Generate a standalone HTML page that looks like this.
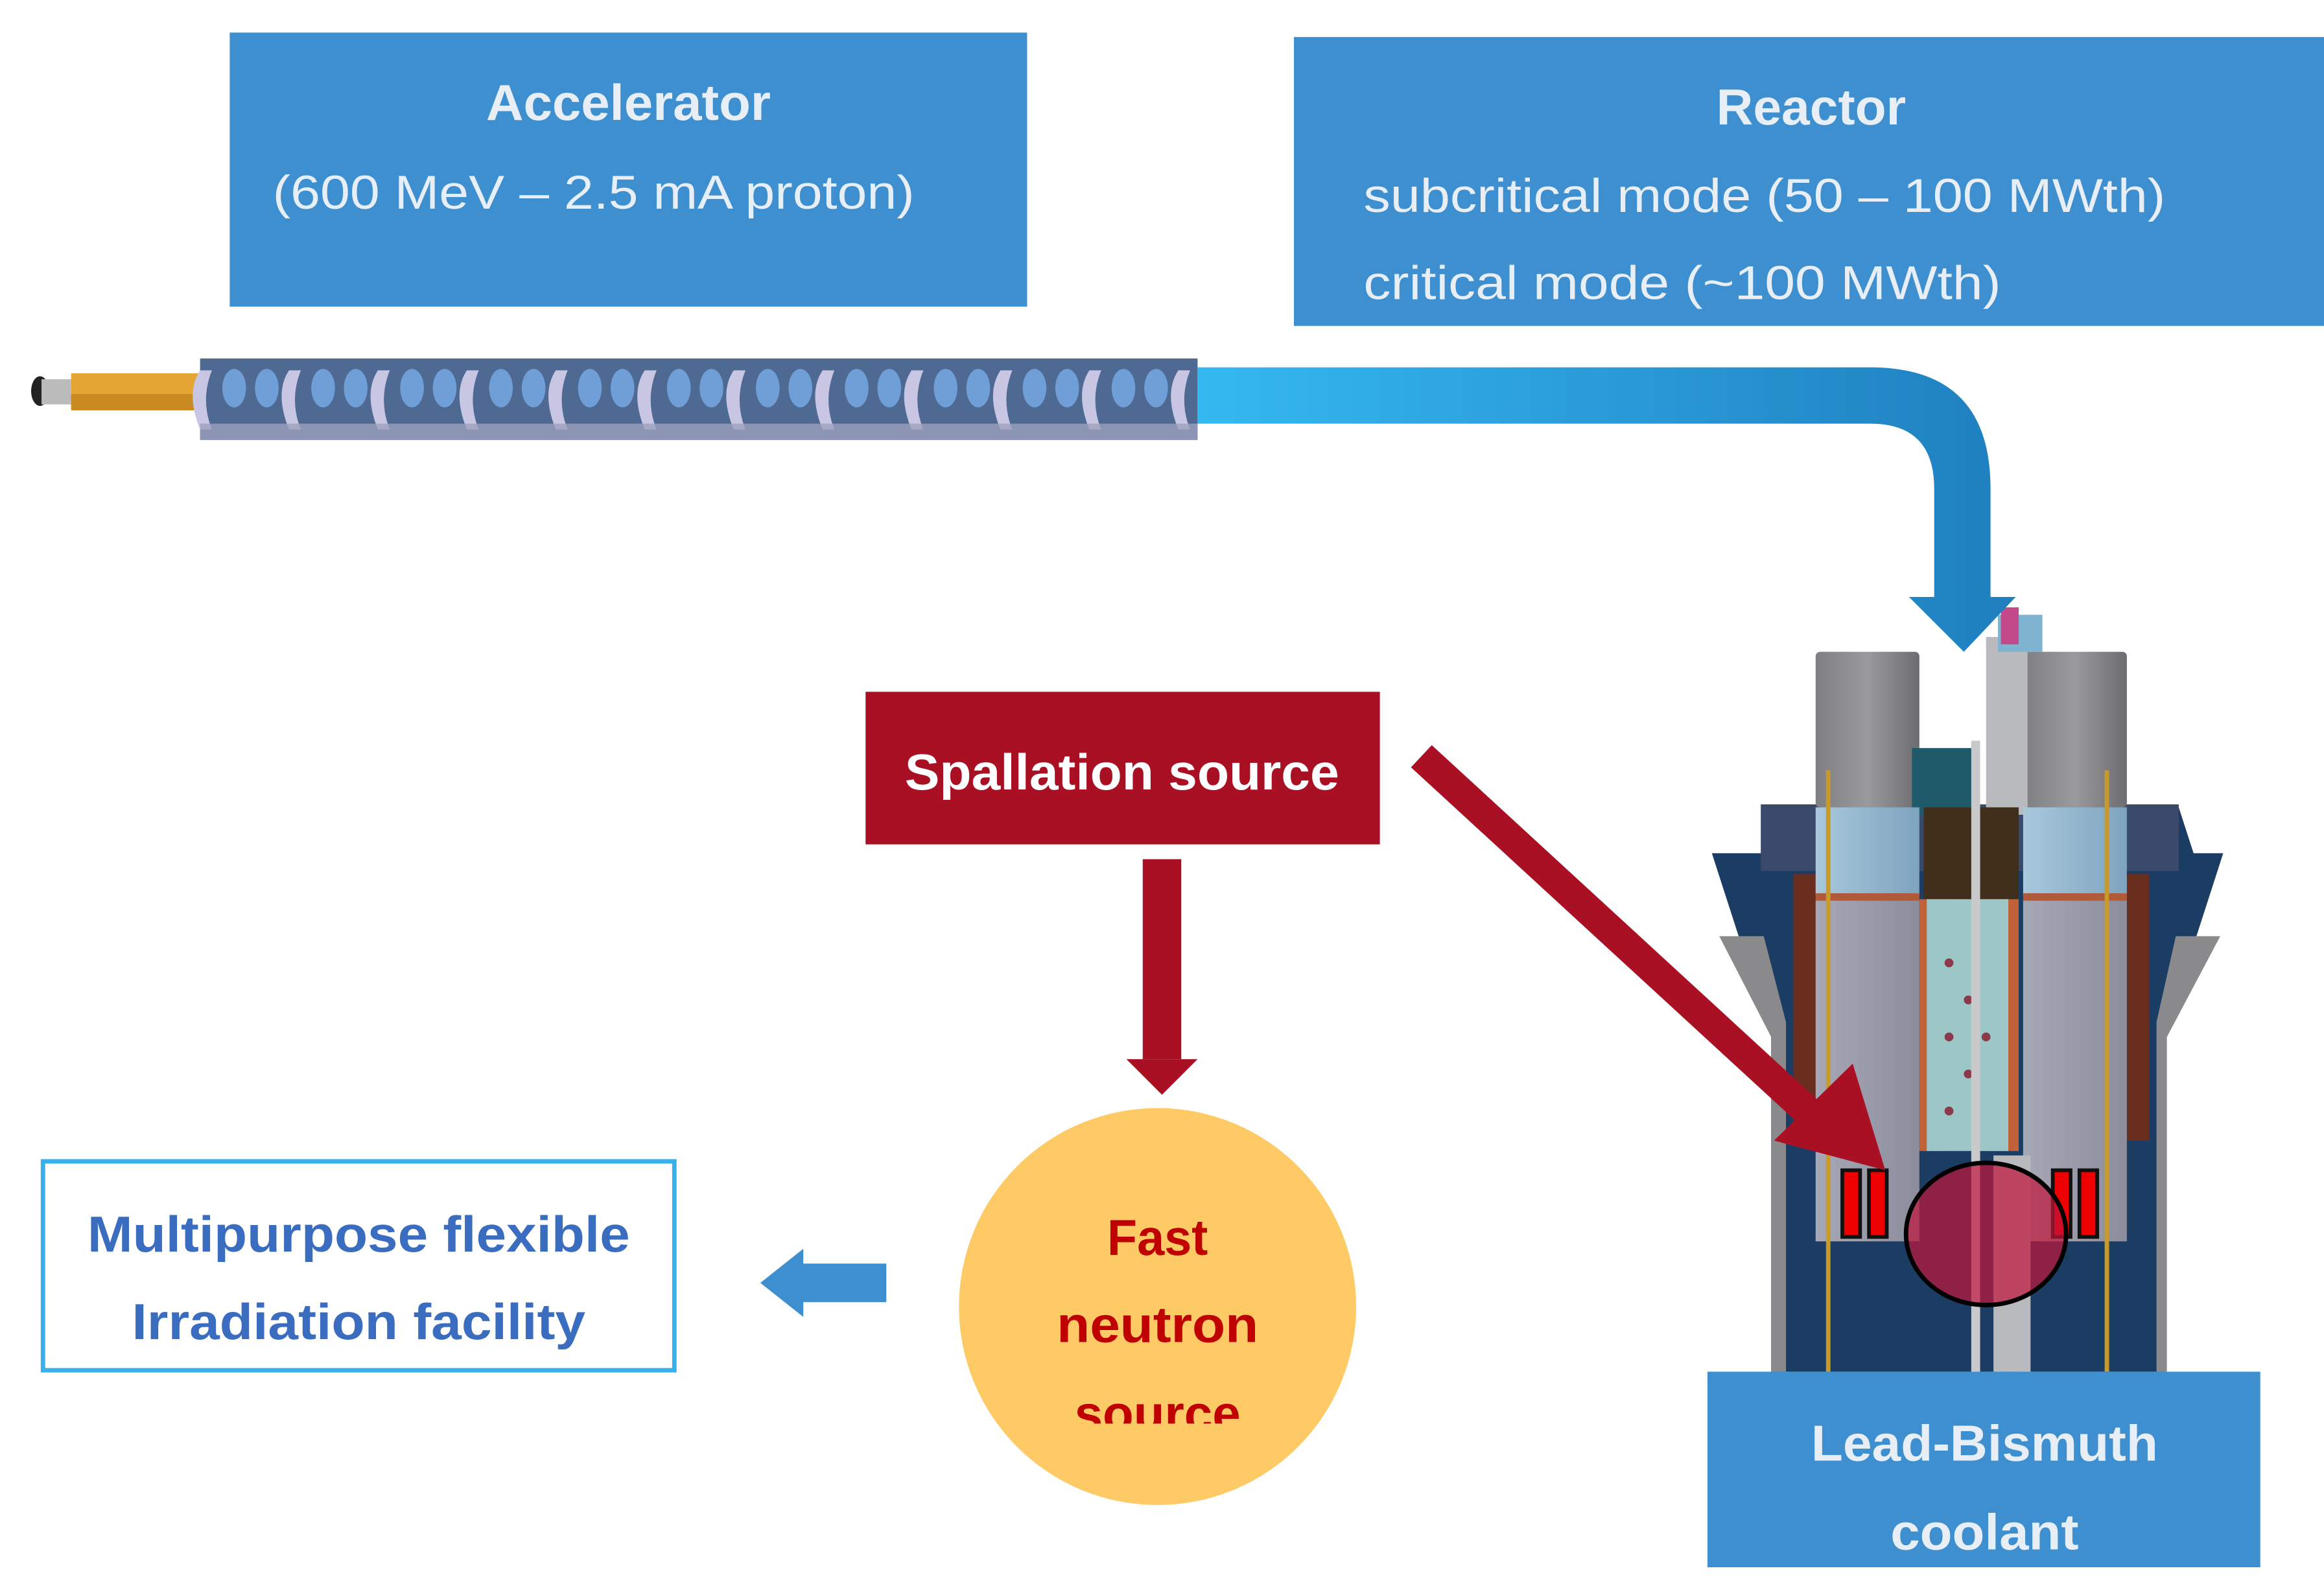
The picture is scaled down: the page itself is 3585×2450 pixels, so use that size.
<!DOCTYPE html>
<html><head><meta charset="utf-8"><style>
html,body{margin:0;padding:0;background:#fff;}
svg{display:block;}
text{font-family:"Liberation Sans","DejaVu Sans",sans-serif;}
</style></head><body>
<svg width="3585" height="2450" viewBox="0 0 1568 1072" preserveAspectRatio="none" xmlns="http://www.w3.org/2000/svg">
<defs>
<linearGradient id="pipe" x1="0" x2="1" y1="0" y2="0"><stop offset="0" stop-color="#35b8f0"/><stop offset="1" stop-color="#1f7fbf"/></linearGradient>
<linearGradient id="col" x1="0" x2="1"><stop offset="0" stop-color="#7f7f82"/><stop offset="0.5" stop-color="#9a9a9d"/><stop offset="1" stop-color="#6d6d70"/></linearGradient>
<linearGradient id="lb" x1="0" x2="1"><stop offset="0" stop-color="#a8c8dc"/><stop offset="1" stop-color="#7fa4bf"/></linearGradient>
<linearGradient id="gr" x1="0" x2="1"><stop offset="0" stop-color="#a6a8b6"/><stop offset="1" stop-color="#8b8d9c"/></linearGradient>
<clipPath id="cc"><rect x="640" y="740" width="290" height="221"/></clipPath>
</defs>

<rect x="155" y="22" width="538" height="185" fill="#3d8fcf"/>
<text x="424" y="81" font-size="34" font-weight="bold" fill="#e8eef5" text-anchor="middle" textLength="192" lengthAdjust="spacingAndGlyphs">Accelerator</text>
<text x="184" y="141" font-size="32" fill="#e8eef5" textLength="433" lengthAdjust="spacingAndGlyphs">(600 MeV – 2.5 mA proton)</text>

<rect x="873" y="25" width="695" height="195" fill="#3d8fcf"/>
<text x="1222" y="84" font-size="34" font-weight="bold" fill="#e8eef5" text-anchor="middle" textLength="128" lengthAdjust="spacingAndGlyphs">Reactor</text>
<text x="920" y="143" font-size="32" fill="#e8eef5" textLength="541" lengthAdjust="spacingAndGlyphs">subcritical mode (50 – 100 MWth)</text>
<text x="920" y="202" font-size="32" fill="#e8eef5" textLength="430" lengthAdjust="spacingAndGlyphs">critical mode (~100 MWth)</text>

<ellipse cx="27" cy="264" rx="6" ry="10" fill="#222"/>
<rect x="28" y="256" width="20" height="17" fill="#bbb"/>
<rect x="48" y="252" width="90" height="25" fill="#e5a533"/>
<rect x="48" y="266" width="90" height="11" fill="#c98a22"/>
<g>
<rect x="135" y="242" width="673" height="55" fill="#4e6a93"/>
<g fill="#c8c6e2">
<path d="M135 250 q-10 15 0 40 l8 0 q-8 -20 0 -40z"/>
<path d="M195 250 q-10 15 0 40 l8 0 q-8 -20 0 -40z"/>
<path d="M255 250 q-10 15 0 40 l8 0 q-8 -20 0 -40z"/>
<path d="M315 250 q-10 15 0 40 l8 0 q-8 -20 0 -40z"/>
<path d="M375 250 q-10 15 0 40 l8 0 q-8 -20 0 -40z"/>
<path d="M435 250 q-10 15 0 40 l8 0 q-8 -20 0 -40z"/>
<path d="M495 250 q-10 15 0 40 l8 0 q-8 -20 0 -40z"/>
<path d="M555 250 q-10 15 0 40 l8 0 q-8 -20 0 -40z"/>
<path d="M615 250 q-10 15 0 40 l8 0 q-8 -20 0 -40z"/>
<path d="M675 250 q-10 15 0 40 l8 0 q-8 -20 0 -40z"/>
<path d="M735 250 q-10 15 0 40 l8 0 q-8 -20 0 -40z"/>
<path d="M795 250 q-10 15 0 40 l8 0 q-8 -20 0 -40z"/>
</g>
<g fill="#6f9fd6">
<ellipse cx="158" cy="262" rx="8" ry="13"/><ellipse cx="180" cy="262" rx="8" ry="13"/>
<ellipse cx="218" cy="262" rx="8" ry="13"/><ellipse cx="240" cy="262" rx="8" ry="13"/>
<ellipse cx="278" cy="262" rx="8" ry="13"/><ellipse cx="300" cy="262" rx="8" ry="13"/>
<ellipse cx="338" cy="262" rx="8" ry="13"/><ellipse cx="360" cy="262" rx="8" ry="13"/>
<ellipse cx="398" cy="262" rx="8" ry="13"/><ellipse cx="420" cy="262" rx="8" ry="13"/>
<ellipse cx="458" cy="262" rx="8" ry="13"/><ellipse cx="480" cy="262" rx="8" ry="13"/>
<ellipse cx="518" cy="262" rx="8" ry="13"/><ellipse cx="540" cy="262" rx="8" ry="13"/>
<ellipse cx="578" cy="262" rx="8" ry="13"/><ellipse cx="600" cy="262" rx="8" ry="13"/>
<ellipse cx="638" cy="262" rx="8" ry="13"/><ellipse cx="660" cy="262" rx="8" ry="13"/>
<ellipse cx="698" cy="262" rx="8" ry="13"/><ellipse cx="720" cy="262" rx="8" ry="13"/>
<ellipse cx="758" cy="262" rx="8" ry="13"/><ellipse cx="780" cy="262" rx="8" ry="13"/>
</g>
<rect x="135" y="286" width="673" height="11" fill="#9da0bd" opacity="0.8"/>
</g>

<g>
<path d="M1155 576 L1190 576 L1200 545 L1470 545 L1480 576 L1500 576 L1460 700 L1460 926 L1195 926 L1195 700 Z" fill="#1c3d63"/>
<path d="M1160 632 L1190 632 L1205 690 L1205 926 L1195 926 L1195 700 Z" fill="#8a8a8c"/>
<path d="M1498 632 L1468 632 L1455 690 L1455 926 L1462 926 L1462 700 Z" fill="#8a8a8c"/>
<rect x="1188" y="543" width="282" height="45" fill="#3a4a6a"/>
<rect x="1210" y="590" width="40" height="180" fill="#6a2e1e"/>
<rect x="1410" y="590" width="40" height="180" fill="#6a2e1e"/>
<rect x="1225" y="440" width="70" height="105" fill="url(#col)" rx="3"/>
<rect x="1365" y="440" width="70" height="105" fill="url(#col)" rx="3"/>
<rect x="1340" y="430" width="28" height="120" fill="#b9babd"/>
<rect x="1348" y="415" width="30" height="25" fill="#7fb4d0"/>
<rect x="1350" y="410" width="12" height="25" fill="#c24a8a"/>
<rect x="1290" y="505" width="45" height="45" fill="#1e5a6a"/>
<rect x="1225" y="545" width="70" height="60" fill="url(#lb)"/>
<rect x="1365" y="545" width="70" height="60" fill="url(#lb)"/>
<rect x="1225" y="603" width="70" height="5" fill="#b05a3a"/>
<rect x="1365" y="603" width="70" height="5" fill="#b05a3a"/>
<rect x="1225" y="608" width="70" height="230" fill="url(#gr)"/>
<rect x="1365" y="608" width="70" height="230" fill="url(#gr)"/>
<rect x="1298" y="545" width="64" height="62" fill="#3e2e1a"/>
<rect x="1295" y="607" width="20" height="170" fill="#c0613a"/>
<rect x="1340" y="607" width="22" height="170" fill="#c0613a"/>
<rect x="1300" y="607" width="55" height="170" fill="#9cc7c6"/>
<g fill="#8a3a4a"><circle cx="1315" cy="650" r="3"/><circle cx="1328" cy="675" r="3"/><circle cx="1315" cy="700" r="3"/><circle cx="1328" cy="725" r="3"/><circle cx="1315" cy="750" r="3"/><circle cx="1340" cy="700" r="3"/></g>
<rect x="1330" y="500" width="6" height="430" fill="#c9c9cc"/>
<rect x="1345" y="780" width="25" height="150" fill="#b9babd"/>
<rect x="1232" y="520" width="3" height="406" fill="#c79a2a"/>
<rect x="1420" y="520" width="3" height="406" fill="#c79a2a"/>
<rect x="1243" y="790" width="12" height="45" fill="#ee0000" stroke="#111" stroke-width="2.5"/>
<rect x="1261" y="790" width="12" height="45" fill="#ee0000" stroke="#111" stroke-width="2.5"/>
<rect x="1385" y="790" width="12" height="45" fill="#ee0000" stroke="#111" stroke-width="2.5"/>
<rect x="1403" y="790" width="12" height="45" fill="#ee0000" stroke="#111" stroke-width="2.5"/>
<ellipse cx="1340" cy="833" rx="54" ry="48" fill="#c0143a" fill-opacity="0.7" stroke="#000" stroke-width="3"/>
</g>

<path d="M808 248 L1262 248 Q1343 248 1343 330 L1343 403 L1360 403 L1325 440 L1288 403 L1305 403 L1305 330 Q1305 286 1262 286 L808 286 Z" fill="url(#pipe)"/>

<rect x="1152" y="926" width="373" height="132" fill="#3d8fcf"/>
<text x="1339" y="986" font-size="34" font-weight="bold" fill="#e8eef5" text-anchor="middle" textLength="234" lengthAdjust="spacingAndGlyphs">Lead-Bismuth</text>
<text x="1339" y="1046" font-size="34" font-weight="bold" fill="#e8eef5" text-anchor="middle" textLength="127" lengthAdjust="spacingAndGlyphs">coolant</text>

<polygon points="952,518 966,503 1240,755 1226,770" fill="#a91024"/>
<polygon points="1197,770 1250,718 1272,790" fill="#a91024"/>

<rect x="584" y="467" width="347" height="103" fill="#a91024"/>
<text x="757" y="533" font-size="34" font-weight="bold" fill="#fff" text-anchor="middle" textLength="293" lengthAdjust="spacingAndGlyphs">Spallation source</text>

<rect x="771" y="580" width="26" height="135" fill="#a91024"/>
<polygon points="760,715 808,715 784,739" fill="#a91024"/>

<circle cx="781" cy="882" r="134" fill="#fdca66"/>
<g clip-path="url(#cc)" font-size="34" font-weight="bold" fill="#c00000" text-anchor="middle">
<text x="781" y="847" textLength="68" lengthAdjust="spacingAndGlyphs">Fast</text>
<text x="781" y="906" textLength="136" lengthAdjust="spacingAndGlyphs">neutron</text>
<text x="781" y="966" textLength="112" lengthAdjust="spacingAndGlyphs">source</text>
</g>

<rect x="540" y="853" width="58" height="26" fill="#3d8fcf"/>
<polygon points="513,866 542,843 542,889" fill="#3d8fcf"/>

<rect x="29" y="784" width="426" height="141" fill="#fff" stroke="#3ab0ea" stroke-width="3"/>
<text x="242" y="845" font-size="34" font-weight="bold" fill="#3a6cc0" text-anchor="middle" textLength="366" lengthAdjust="spacingAndGlyphs">Multipurpose flexible</text>
<text x="242" y="904" font-size="34" font-weight="bold" fill="#3a6cc0" text-anchor="middle" textLength="306" lengthAdjust="spacingAndGlyphs">Irradiation facility</text>
</svg>
</body></html>
